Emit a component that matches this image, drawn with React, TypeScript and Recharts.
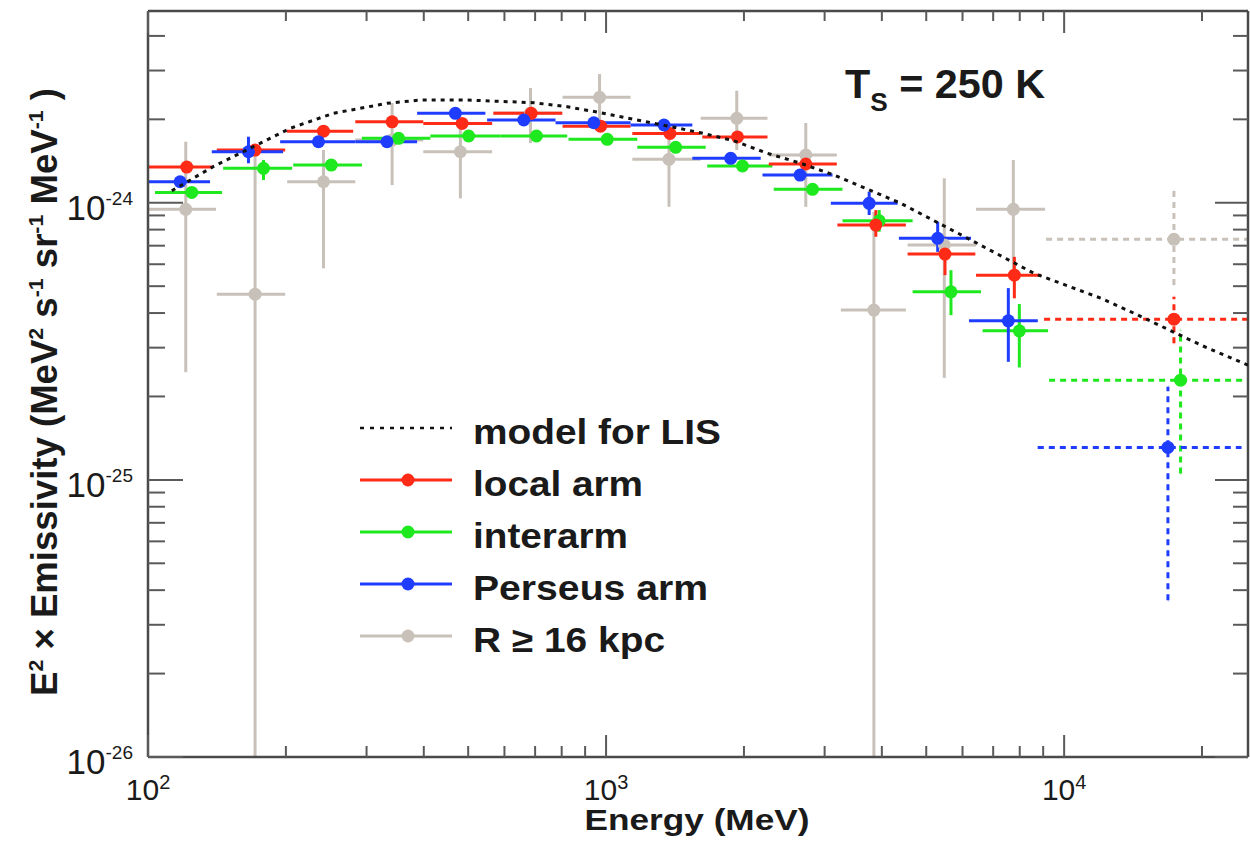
import React from 'react';
import { ScatterChart, Scatter, XAxis, YAxis, ErrorBar, Legend } from 'recharts';

// emissivity values are in units of 1e-24 MeV^2 s^-1 sr^-1 MeV^-1
const UNIT = 1e-24;
const X_DOMAIN = [100, 25200];
const Y_DOMAIN = [1e-26, 4.92e-24];

const X_TICKS = [
  100, 200, 300, 400, 500, 600, 700, 800, 900,
  1000, 2000, 3000, 4000, 5000, 6000, 7000, 8000, 9000,
  10000, 20000,
];
const Y_TICKS = [
  1e-26, 2e-26, 3e-26, 4e-26, 5e-26, 6e-26, 7e-26, 8e-26, 9e-26,
  1e-25, 2e-25, 3e-25, 4e-25, 5e-25, 6e-25, 7e-25, 8e-25, 9e-25,
  1e-24, 2e-24, 3e-24, 4e-24,
];

// local arm
const RED_E = [121.5, 171.3, 241.6, 341.1, 484.9, 686.3, 972.7, 1379, 1936, 2729, 3881, 5494, 7786];
const RED_E_LO = [100, 141.3, 201, 283.5, 399, 567.5, 803.5, 1141, 1622, 2266, 3199, 4553, 6422];
const RED_E_HI = [138.7, 199.3, 280.5, 399, 564, 802.3, 1131, 1609, 2251, 3190, 4513, 6400, 8906];
const RED_V = [1.345, 1.549, 1.812, 1.959, 1.933, 2.102, 1.89, 1.778, 1.728, 1.38, 0.831, 0.653, 0.548];
const RED_V_LO = [1.3, 1.5, 1.76, 1.9, 1.88, 2.04, 1.83, 1.72, 1.67, 1.33, 0.754, 0.548, 0.452];
const RED_V_HI = [1.39, 1.6, 1.87, 2.02, 1.99, 2.17, 1.95, 1.84, 1.79, 1.43, 0.941, 0.754, 0.638];

// interarm
const GREEN_E = [124.6, 178.7, 251.2, 352.4, 501.2, 704.7, 1006, 1419, 1985, 2823, 3947, 5662, 7984];
const GREEN_E_LO = [103.6, 145.9, 207.5, 293, 413.4, 588, 828, 1170, 1663, 2323, 3282, 4669, 6637];
const GREEN_E_HI = [145.1, 206.4, 293.1, 413.4, 588, 822.4, 1170, 1650, 2307, 3282, 4669, 6586, 9226];
const GREEN_V = [1.09, 1.331, 1.368, 1.708, 1.741, 1.741, 1.694, 1.585, 1.357, 1.118, 0.861, 0.477, 0.345];
const GREEN_V_LO = [1.05, 1.208, 1.32, 1.65, 1.69, 1.69, 1.64, 1.53, 1.31, 1.08, 0.786, 0.393, 0.2545];
const GREEN_V_HI = [1.13, 1.426, 1.42, 1.77, 1.8, 1.8, 1.75, 1.64, 1.41, 1.16, 0.941, 0.571, 0.431];

// Perseus arm
const BLUE_E = [117.5, 165.7, 235.6, 332.5, 468.8, 661.2, 940.3, 1338, 1871, 2652, 3753, 5296, 7554];
const BLUE_E_LO = [100, 137.8, 194.3, 284, 386.8, 549.9, 775.6, 1131, 1543, 2195, 3095, 4358, 6199];
const BLUE_E_HI = [136.6, 197.2, 284, 386.8, 545.2, 775.6, 1131, 1543, 2176, 3122, 4330, 6262, 8761];
const BLUE_V = [1.191, 1.528, 1.66, 1.66, 2.102, 1.989, 1.944, 1.908, 1.446, 1.259, 0.995, 0.744, 0.375];
const BLUE_V_LO = [1.15, 1.388, 1.61, 1.61, 2.04, 1.93, 1.89, 1.85, 1.4, 1.22, 0.903, 0.665, 0.2667];
const BLUE_V_HI = [1.23, 1.731, 1.71, 1.71, 2.16, 2.05, 2.0, 1.97, 1.49, 1.3, 1.096, 0.854, 0.492];

// R >= 16 kpc (0.01 = lower limit reaches the bottom of the plot)
const GRAY_E = [120.9, 171.3, 241.6, 341.1, 480.8, 683.9, 967.8, 1372, 1929, 2729, 3843, 5475, 7746];
const GRAY_E_LO = [100, 141.3, 201.3, 283.5, 399, 567.5, 803.5, 1141, 1609, 2266, 3255, 4553, 6422];
const GRAY_E_HI = [140.8, 199.3, 283.5, 399, 564, 802.3, 1131, 1609, 2251, 3190, 4513, 6422, 9088];
const GRAY_V = [0.947, 0.468, 1.191, 1.684, 1.528, 2.108, 2.402, 1.435, 2.017, 1.487, 0.41, 0.704, 0.947];
const GRAY_V_LO = [0.2447, 0.01, 0.58, 1.158, 1.037, 1.642, 1.961, 0.967, 1.55, 0.967, 0.01, 0.2334, 0.548];
const GRAY_V_HI = [1.66, 1.615, 1.55, 2.291, 1.94, 2.595, 2.915, 1.908, 2.537, 1.94, 0.926, 1.225, 1.426];

// highest energy bin (dotted), order: local arm, interarm, Perseus arm, R >= 16 kpc
const LAST_E = [17366, 17955, 16850, 17366];
const LAST_E_LO = [9043, 9273, 8761, 9134];
const LAST_E_HI = [25200, 25200, 24374, 25200];
const LAST_V = [0.38, 0.229, 0.131, 0.738];
const LAST_V_LO = [0.311, 0.1055, 0.0368, 0.5045];
const LAST_V_HI = [0.458, 0.347, 0.2166, 1.111];

// model for LIS
const MODEL_E = [
  112.7, 138.7, 169.6, 204.4, 253.7, 332.5, 393.1, 497.4, 695.5, 822.9, 972.7, 1148, 1361,
  1609, 1900, 2251, 2661, 3143, 4402, 6159, 8599, 12047, 14223, 19927, 25200,
];
const MODEL_V = [
  1.105, 1.349, 1.593, 1.856, 2.102, 2.285, 2.348, 2.348, 2.296, 2.221, 2.113, 2.0, 1.892,
  1.789, 1.674, 1.508, 1.388, 1.259, 0.995, 0.744, 0.556, 0.452, 0.399, 0.306, 0.2595,
];

const LEGEND_LABELS = ['model for LIS', 'local arm', 'interarm', 'Perseus arm', 'R \u2265 16 kpc'];
const LEGEND_WIDTHS = [248, 170, 155, 235, 192];

const FONT = '"Liberation Sans", Arial, Helvetica, sans-serif';
const TEXT = '#1a1a1a';
const AXIS = '#4a4a4a';
const TICK = '#5a5a5a';
const RED = '#ff2b16';
const GREEN = '#1ee81e';
const BLUE = '#1f3dff';
const GRAY = '#c8c1b9';
const MODEL = '#111111';
const LEGEND_COLORS = [MODEL, RED, GREEN, BLUE, GRAY];

const points = (e: number[], eLo: number[], eHi: number[], v: number[], vLo: number[], vHi: number[]) =>
  e.map((x, i) => ({
    x,
    y: v[i] * UNIT,
    ex: [x - eLo[i], eHi[i] - x],
    ey: [(v[i] - vLo[i]) * UNIT, (vHi[i] - v[i]) * UNIT],
  }));

const redData = points(RED_E, RED_E_LO, RED_E_HI, RED_V, RED_V_LO, RED_V_HI);
const greenData = points(GREEN_E, GREEN_E_LO, GREEN_E_HI, GREEN_V, GREEN_V_LO, GREEN_V_HI);
const blueData = points(BLUE_E, BLUE_E_LO, BLUE_E_HI, BLUE_V, BLUE_V_LO, BLUE_V_HI);
const grayData = points(GRAY_E, GRAY_E_LO, GRAY_E_HI, GRAY_V, GRAY_V_LO, GRAY_V_HI);
const lastData = points(LAST_E, LAST_E_LO, LAST_E_HI, LAST_V, LAST_V_LO, LAST_V_HI);
const modelData = MODEL_E.map((x, i) => ({ x, y: MODEL_V[i] * UNIT }));

const decade = (v: number) => Math.round(Math.log10(v));
const isMajor = (v: number) => Math.abs(Math.log10(v) - decade(v)) < 1e-6;

const BottomTick = ({ x, y, payload }: any) => {
  const major = isMajor(payload.value);
  return (
    <g>
      <line x1={x} x2={x} y1={y} y2={y - (major ? 22 : 11)} stroke={TICK} strokeWidth={2} />
      {major && (
        <text x={x} y={y + 43} textAnchor="middle" fontFamily={FONT} fontSize={30} fill={TEXT}>
          10<tspan dy={-11} fontSize={20}>{decade(payload.value)}</tspan>
        </text>
      )}
    </g>
  );
};

const TopTick = ({ x, y, payload }: any) => {
  const major = isMajor(payload.value);
  return <line x1={x} x2={x} y1={y} y2={y + (major ? 22 : 10)} stroke={TICK} strokeWidth={2} />;
};

const LeftTick = ({ x, y, payload }: any) => {
  const major = isMajor(payload.value);
  return (
    <g>
      <line x1={x} x2={x + (major ? 35 : 17)} y1={y} y2={y} stroke={TICK} strokeWidth={2} />
      {major && (
        <text x={x - 15} y={y + 17} textAnchor="end" fontFamily={FONT} fontSize={35} fill={TEXT}>
          10<tspan dy={-15} fontSize={19}>{decade(payload.value)}</tspan>
        </text>
      )}
    </g>
  );
};

const RightTick = ({ x, y, payload }: any) => {
  const major = isMajor(payload.value);
  return <line x1={x} x2={x - (major ? 33 : 15)} y1={y} y2={y} stroke={TICK} strokeWidth={2} />;
};

const dot = (color: string) => (p: any) => <circle cx={p.cx} cy={p.cy} r={6.5} fill={color} />;

const LegendBox = () => (
  <svg width={400} height={260} style={{ overflow: 'visible' }}>
    {LEGEND_LABELS.map((label, i) => {
      const cy = 28 + i * 52;
      const color = LEGEND_COLORS[i];
      return (
        <g key={label}>
          {i === 0 ? (
            <line x1={5} x2={97} y1={cy} y2={cy} stroke={color} strokeWidth={2.5} strokeDasharray="4 6" />
          ) : (
            <>
              <line x1={5} x2={97} y1={cy} y2={cy} stroke={color} strokeWidth={3} />
              <circle cx={53} cy={cy} r={6.5} fill={color} />
            </>
          )}
          <text
            x={118}
            y={cy + 16}
            fontFamily={FONT}
            fontWeight="bold"
            fontSize={35}
            fill={TEXT}
            textLength={LEGEND_WIDTHS[i]}
            lengthAdjust="spacingAndGlyphs"
          >
            {label}
          </text>
        </g>
      );
    })}
  </svg>
);

const axisLine = { stroke: AXIS, strokeWidth: 2.5 };

export default function App() {
  const series = [
    { key: 'gray', data: grayData, color: GRAY, last: 3 },
    { key: 'green', data: greenData, color: GREEN, last: 1 },
    { key: 'red', data: redData, color: RED, last: 0 },
    { key: 'blue', data: blueData, color: BLUE, last: 2 },
  ];

  return (
    <div style={{ position: 'absolute', left: 8, top: 8, width: 1242, height: 838, background: '#fff' }}>
      <ScatterChart width={1242} height={838} margin={{ top: 2, right: 1, bottom: 0, left: 0 }}>
        <XAxis
          dataKey="x"
          type="number"
          scale="log"
          domain={X_DOMAIN}
          allowDataOverflow
          ticks={X_TICKS}
          interval={0}
          tick={BottomTick}
          tickLine={false}
          tickSize={0}
          tickMargin={0}
          height={89}
          axisLine={axisLine}
        />
        <XAxis
          xAxisId="top"
          orientation="top"
          dataKey="x"
          type="number"
          scale="log"
          domain={X_DOMAIN}
          allowDataOverflow
          ticks={X_TICKS}
          interval={0}
          tick={TopTick}
          tickLine={false}
          tickSize={0}
          tickMargin={0}
          height={1}
          axisLine={axisLine}
        />
        <YAxis
          dataKey="y"
          type="number"
          scale="log"
          domain={Y_DOMAIN}
          allowDataOverflow
          ticks={Y_TICKS}
          interval={0}
          tick={LeftTick}
          tickLine={false}
          tickSize={0}
          tickMargin={0}
          width={140}
          axisLine={axisLine}
        />
        <YAxis
          yAxisId="right"
          orientation="right"
          dataKey="y"
          type="number"
          scale="log"
          domain={Y_DOMAIN}
          allowDataOverflow
          ticks={Y_TICKS}
          interval={0}
          tick={RightTick}
          tickLine={false}
          tickSize={0}
          tickMargin={0}
          width={1}
          axisLine={axisLine}
        />

        {series.map((s) => (
          <Scatter key={s.key} data={s.data} fill={s.color} shape={dot(s.color)} isAnimationActive={false}>
            <ErrorBar dataKey="ex" direction="x" width={0} stroke={s.color} strokeWidth={3} isAnimationActive={false} />
            <ErrorBar dataKey="ey" direction="y" width={0} stroke={s.color} strokeWidth={3} isAnimationActive={false} />
          </Scatter>
        ))}

        {series.map((s) => (
          <Scatter
            key={s.key + '-last'}
            data={[lastData[s.last]]}
            fill={s.color}
            shape={dot(s.color)}
            isAnimationActive={false}
          >
            <ErrorBar dataKey="ex" direction="x" width={0} stroke={s.color} strokeWidth={3} strokeDasharray="6 5" isAnimationActive={false} />
            <ErrorBar dataKey="ey" direction="y" width={0} stroke={s.color} strokeWidth={3} strokeDasharray="6 5" isAnimationActive={false} />
          </Scatter>
        ))}

        <Scatter
          data={modelData}
          fill="none"
          line={{ stroke: MODEL, strokeWidth: 3, strokeDasharray: '4 5' }}
          lineType="joint"
          shape={() => <g />}
          isAnimationActive={false}
        />

        <Legend
          layout="vertical"
          align="center"
          verticalAlign="middle"
          content={() => <LegendBox />}
          wrapperStyle={{ left: 347, top: 392, right: 'auto', bottom: 'auto', width: 400, height: 260 }}
        />

        <text x={837} y={90} fontFamily={FONT} fontWeight="bold" fontSize={41} fill={TEXT} textLength={200} lengthAdjust="spacingAndGlyphs">
          T<tspan dy={13} fontSize={26}>S</tspan>
          <tspan dy={-13}> = 250 K</tspan>
        </text>

        <text
          x={689}
          y={822}
          textAnchor="middle"
          fontFamily={FONT}
          fontWeight="bold"
          fontSize={30}
          fill={TEXT}
          textLength={225}
          lengthAdjust="spacingAndGlyphs"
        >
          Energy (MeV)
        </text>

        <text
          transform="translate(49, 384) rotate(-90)"
          textAnchor="middle"
          fontFamily={FONT}
          fontWeight="bold"
          fontSize={36}
          fill={TEXT}
          textLength={608}
          lengthAdjust="spacingAndGlyphs"
        >
          E<tspan dy={-14} fontSize={21}>2</tspan>
          <tspan dy={14}> {'\u00d7'} Emissivity (MeV</tspan>
          <tspan dy={-14} fontSize={21}>2</tspan>
          <tspan dy={14}> s</tspan>
          <tspan dy={-14} fontSize={21}>-1</tspan>
          <tspan dy={14}> sr</tspan>
          <tspan dy={-14} fontSize={21}>-1</tspan>
          <tspan dy={14}> MeV</tspan>
          <tspan dy={-14} fontSize={21}>-1</tspan>
          <tspan dy={14}> )</tspan>
        </text>
      </ScatterChart>
    </div>
  );
}
